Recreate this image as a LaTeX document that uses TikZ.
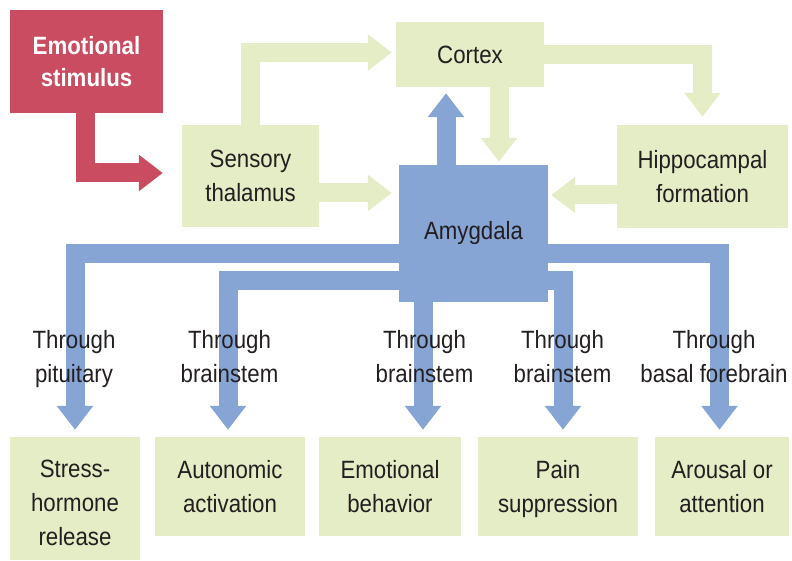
\documentclass[tikz,border=0pt]{standalone}
\usepackage{fontspec}
\setmainfont{Liberation Sans}[FakeStretch=0.89]
\usetikzlibrary{arrows.meta,positioning}
\definecolor{stimred}{RGB}{201,76,96}
\definecolor{paleleaf}{RGB}{229,237,198}
\definecolor{amygblue}{RGB}{134,165,213}
\definecolor{inkgray}{RGB}{35,31,32}

\begin{document}
\begin{tikzpicture}[x=1pt,y=-1pt,font=\fontsize{25}{34}\selectfont]
  \tikzstyle{box}=[fill=paleleaf,inner sep=0pt,align=center,text=inkgray,
    text height=57pt,text depth=5pt]
  \tikzstyle{stim}=[fill=stimred,inner sep=0pt,align=center,text=white,
    font=\fontsize{25}{32}\selectfont\bfseries]
  \tikzstyle{amygbox}=[fill=amygblue,inner sep=0pt,align=center,text=inkgray]
  \tikzstyle{fat}=[line width=19pt,-{Triangle[length=24pt,width=35pt]}]
  \tikzstyle{redarrow}=[fat,draw=stimred]
  \tikzstyle{leafarrow}=[fat,draw=paleleaf]
  \tikzstyle{bluearrow}=[fat,draw=amygblue]
  \tikzstyle{route}=[align=center,text=inkgray,inner sep=0pt,anchor=north]
  \useasboundingbox (0,0) rectangle (792,561);

  % top half
  \node[stim,minimum width=153pt,minimum height=103pt] (stimulus) at (86.5,61.5) {Emotional\\stimulus};
  \node[box,minimum width=137pt,minimum height=102pt] (thalamus) at (250.5,176) {Sensory\\thalamus};
  \node[box,minimum width=148pt,minimum height=65pt,text height=24pt] (cortex) at (470,54.5) {Cortex};
  \node[box,minimum width=171pt,minimum height=103pt] (hippo) at (702.5,176.5) {Hippocampal\\formation};
  \node[amygbox,minimum width=149pt,minimum height=137pt] (amyg) at (473.5,233.5) {Amygdala};

  % bottom row
  \node[box,minimum width=130pt,minimum height=123pt,text height=98pt] (stress) at (75,498.5) {Stress-\\hormone\\release};
  \node[box,minimum width=150pt,minimum height=99pt] (autonomic) at (230,486.5) {Autonomic\\activation};
  \node[box,minimum width=142pt,minimum height=99pt] (behavior) at (390,486.5) {Emotional\\behavior};
  \node[box,minimum width=160pt,minimum height=99pt] (pain) at (558,486.5) {Pain\\suppression};
  \node[box,minimum width=134pt,minimum height=99pt] (arousal) at (722,486.5) {Arousal or\\attention};

  \coordinate (outer) at ([yshift=-20pt]amyg.center);
  \coordinate (inner) at ([yshift=-47pt]amyg.center);

  % inputs
  \draw[redarrow,shorten >=19pt] ([xshift=-1.5pt]stimulus.south) |- ([yshift=3pt]thalamus.west);
  \draw[leafarrow,shorten >=4pt] (thalamus.north) |- ([yshift=2pt]cortex.west);
  \draw[leafarrow,shorten >=7pt] ([yshift=-17pt]thalamus.east) -- ([yshift=-17pt]thalamus.east -| amyg.west);
  \draw[leafarrow,shorten >=8pt] (cortex.east) -| (hippo.north);
  \draw[leafarrow,shorten >=3pt] ([xshift=29pt]cortex.south) -- ([xshift=29pt]cortex.south |- amyg.north);
  \draw[leafarrow,shorten >=3pt] ([yshift=-18.5pt]hippo.west) -- ([yshift=-18.5pt]hippo.west -| amyg.east);
  \draw[bluearrow,shorten >=6pt] ([xshift=-27.5pt]amyg.north) -- ([xshift=-27.5pt]amyg.north |- cortex.south);

  % outputs
  \draw[bluearrow,shorten >=7pt] (outer) -| (stress.north);
  \draw[bluearrow,shorten >=7pt] (outer) -| ([xshift=-2.5pt]arousal.north);
  \draw[bluearrow,shorten >=7pt] (inner) -| ([xshift=-2pt]autonomic.north);
  \draw[bluearrow,shorten >=7pt] (inner) -| ([xshift=5pt]pain.north);
  \draw[bluearrow,shorten >=7pt] ([xshift=-50.5pt]amyg.south) -- ([xshift=-50.5pt]amyg.south |- behavior.north);

  \node[route] (viapit) at (74,330) {Through\\pituitary};
  \node[route] (viabs1) at (229.5,330) {Through\\brainstem};
  \node[route] (viabs2) at (424.5,330) {Through\\brainstem};
  \node[route] (viabs3) at (562.5,330) {Through\\brainstem};
  \node[route] (viabf) at (714,330) {Through\\basal forebrain};
\end{tikzpicture}
\end{document}
